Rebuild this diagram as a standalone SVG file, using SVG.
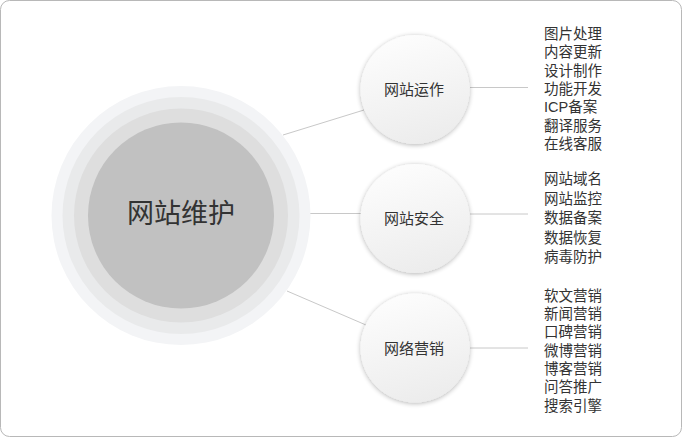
<svg xmlns="http://www.w3.org/2000/svg" width="682" height="437" viewBox="0 0 682 437">
<defs>
<linearGradient id="cg" x1="0.3" y1="0" x2="0.6" y2="1">
<stop offset="0" stop-color="#fdfdfd"/>
<stop offset="1" stop-color="#ececec"/>
</linearGradient>
<filter id="sh" x="-30%" y="-30%" width="160%" height="160%">
<feGaussianBlur in="SourceAlpha" stdDeviation="2.5"/>
<feOffset dx="0" dy="1" result="b"/>
<feComponentTransfer><feFuncA type="linear" slope="0.3"/></feComponentTransfer>
<feMerge><feMergeNode/><feMergeNode in="SourceGraphic"/></feMerge>
</filter>
<style>
.t{font-family:"Liberation Sans","Noto Sans CJK SC",sans-serif;fill:#333;}
.node{font-size:15px;text-anchor:middle;dominant-baseline:central;}
.lst{font-size:14.5px;dominant-baseline:central;}
.ln{stroke:#c8c8c8;stroke-width:1;fill:none;}
.sc{fill:url(#cg);filter:url(#sh);}
</style>
</defs>
<rect x="0.5" y="0.5" width="681" height="436" rx="9" fill="#fff" stroke="#b8b8b8"/>
<g id="connectors">
<line class="ln" x1="283" y1="135" x2="364" y2="110"/>
<line class="ln" x1="310" y1="213.5" x2="361" y2="213.5"/>
<line class="ln" x1="287" y1="291" x2="366" y2="325"/>
<line class="ln" x1="470" y1="87.5" x2="528" y2="87.5"/>
<line class="ln" x1="470" y1="214" x2="528" y2="214"/>
<line class="ln" x1="470" y1="348" x2="528" y2="348"/>
</g>
<g id="center">
<circle cx="181" cy="215.5" r="129.5" fill="#f3f4f6"/>
<circle cx="181" cy="215.5" r="118.5" fill="#e9eaeb"/>
<circle cx="181" cy="215.5" r="107" fill="#dedede"/>
<circle cx="181" cy="215.5" r="93" fill="#c1c1c1"/>
<text class="t" x="181" y="214" font-size="27" text-anchor="middle" dominant-baseline="central" fill="#222">网站维护</text>
</g>
<g id="n1">
<circle class="sc" cx="415" cy="89.5" r="54.5"/>
<text class="t node" x="414" y="89">网站运作</text>
</g>
<g id="n2">
<circle class="sc" cx="415" cy="218.5" r="54.5"/>
<text class="t node" x="414" y="218">网站安全</text>
</g>
<g id="n3">
<circle class="sc" cx="415" cy="348" r="54.5"/>
<text class="t node" x="414" y="348">网络营销</text>
</g>
<g id="list1" class="t lst">
<text x="544" y="34">图片处理</text>
<text x="544" y="52.3">内容更新</text>
<text x="544" y="70.6">设计制作</text>
<text x="544" y="88.9">功能开发</text>
<text x="544" y="107.2">ICP备案</text>
<text x="544" y="125.5">翻译服务</text>
<text x="544" y="143.8">在线客服</text>
</g>
<g id="list2" class="t lst">
<text x="544" y="179">网站域名</text>
<text x="544" y="198.5">网站监控</text>
<text x="544" y="218">数据备案</text>
<text x="544" y="237.5">数据恢复</text>
<text x="544" y="257">病毒防护</text>
</g>
<g id="list3" class="t lst">
<text x="544" y="295.7">软文营销</text>
<text x="544" y="314">新闻营销</text>
<text x="544" y="332.3">口碑营销</text>
<text x="544" y="350.6">微博营销</text>
<text x="544" y="368.9">博客营销</text>
<text x="544" y="387.2">问答推广</text>
<text x="544" y="405.5">搜索引擎</text>
</g>
</svg>
